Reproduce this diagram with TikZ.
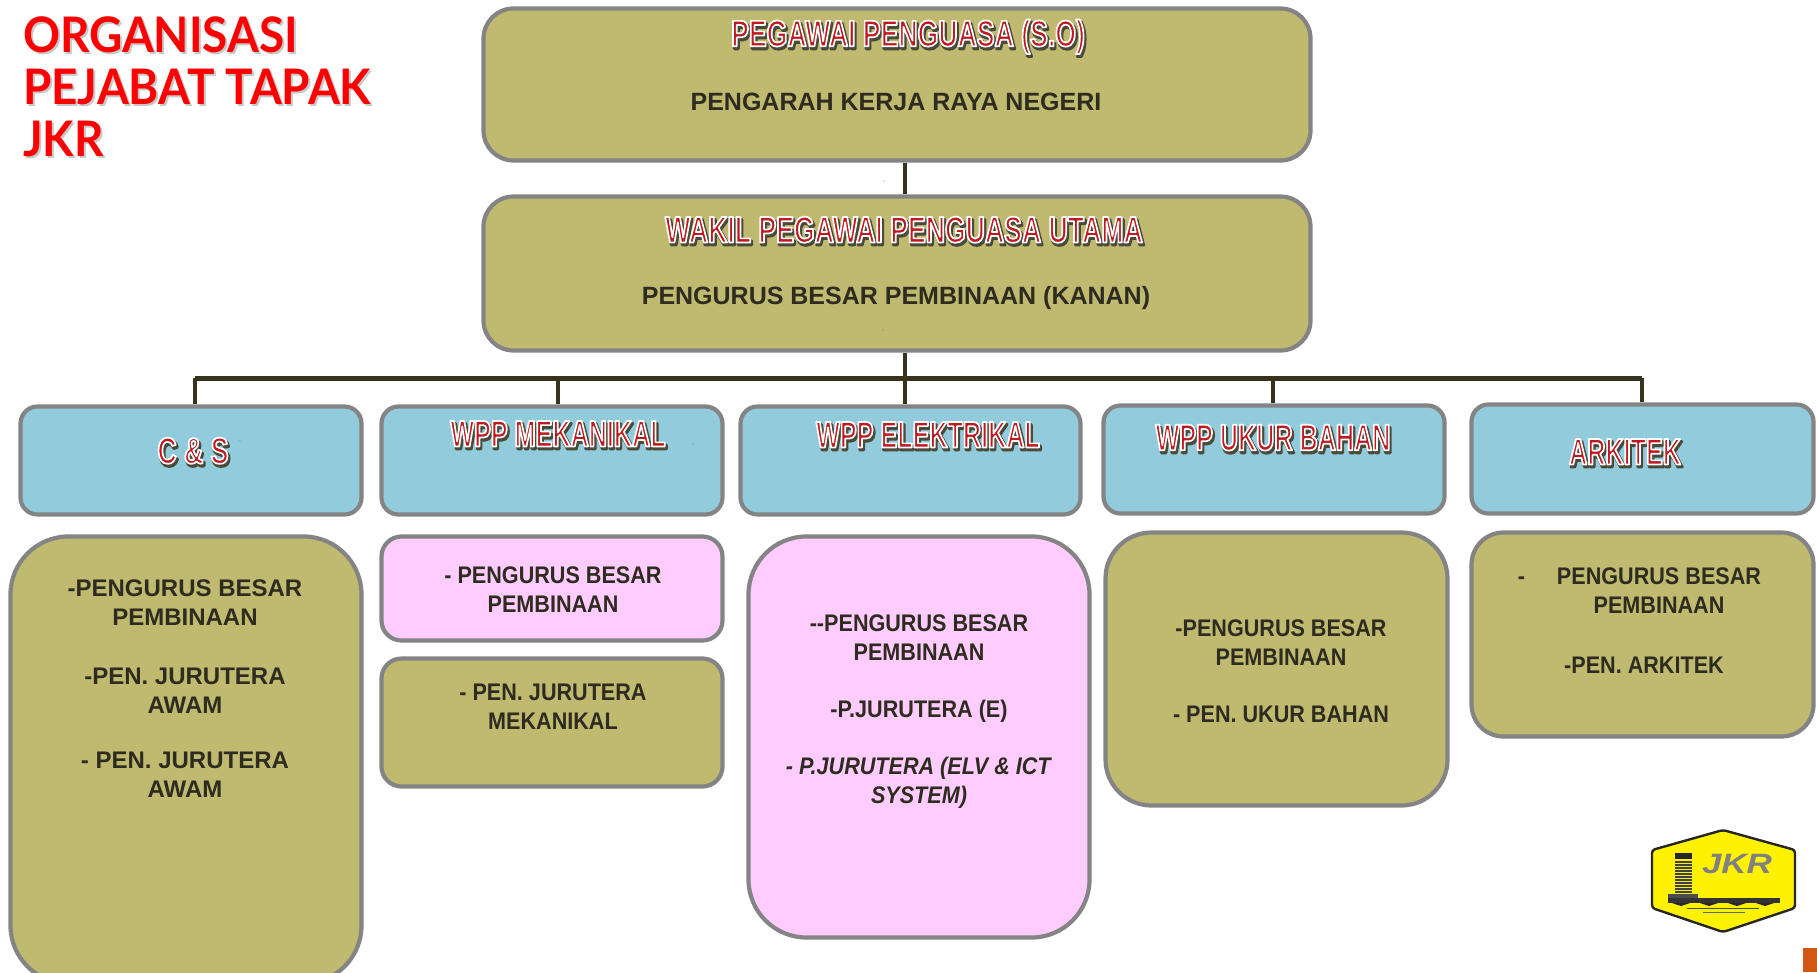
\documentclass[tikz,border=0pt]{standalone}
\usepackage{fontspec}
\setmainfont{Liberation Sans}
\newfontfamily\titlefont[FakeStretch=0.935]{Lato}
\newfontfamily\headfont[FakeStretch=0.72]{Liberation Sans}
\newfontfamily\subheadfont[FakeStretch=0.68]{Liberation Sans}
\newfontfamily\narrowfont[FakeStretch=0.9]{Liberation Sans}
\newfontfamily\logofont[FakeStretch=1.25]{Liberation Sans}

\definecolor{olivefill}{HTML}{BFBA70}
\definecolor{bluefill}{HTML}{92CCDC}
\definecolor{pinkfill}{HTML}{FFCCFF}
\definecolor{boxline}{HTML}{848484}
\definecolor{inkdark}{HTML}{2E2B1F}
\definecolor{busdark}{HTML}{38331F}
\definecolor{headred}{HTML}{C0181F}
\definecolor{headshade}{HTML}{4A4A3A}
\definecolor{titleshade}{HTML}{C8C8C8}
\definecolor{cornermark}{HTML}{D15814}

% outlined heading text: red core, white rim, dark drop
\newcommand{\headtext}[1]{\rlap{\kern1.5pt\raisebox{-2.5pt}{\color{headshade}\special{pdf:code 2 Tr 3 w 1 j 0.29 0.29 0.23 RG}#1\special{pdf:code 0 Tr}}}{\color{headred}\special{pdf:code 2 Tr 1.7 w 1 j 1 1 1 RG}#1\special{pdf:code 0 Tr}}}
% title line with a soft drop
\newcommand{\titletext}[1]{\rlap{\kern2pt\raisebox{-2pt}{\color{titleshade}#1}}#1}

\tikzset{
  orgbox/.style={draw=boxline, line width=4.2pt, inner sep=0pt},
  olivecard/.style={orgbox, fill=olivefill},
  bluecard/.style={orgbox, fill=bluefill, rounded corners=17pt},
  pinkcard/.style={orgbox, fill=pinkfill},
  heading/.style={inner sep=0pt, font=\headfont\bfseries\fontsize{37}{40}\selectfont},
  subheading/.style={inner sep=0pt, font=\subheadfont\bfseries\fontsize{37}{40}\selectfont},
  toptext/.style={inner sep=0pt, text=inkdark, font=\bfseries\fontsize{25}{29}\selectfont},
  bodytext/.style={inner sep=0pt, align=center, text=inkdark, font=\bfseries\fontsize{24}{29}\selectfont},
  narrowtext/.style={bodytext, font=\narrowfont\bfseries\fontsize{24}{29}\selectfont},
  speck/.style={inner sep=0pt, text=boxline, font=\fontsize{7}{8}\selectfont},
  busline/.style={draw=busdark, line width=3.2pt}
}

\begin{document}
\begin{tikzpicture}[x=1pt, y=-1pt]
  \useasboundingbox (0,0) rectangle (1817,972);
  \clip (0,0) rectangle (1817,972);

  % top boxes
  \node[olivecard, rounded corners=30pt, minimum width=827pt, minimum height=152pt] (so) at (897,84.5) {};
  \node[olivecard, rounded corners=30pt, minimum width=827pt, minimum height=154pt] (utama) at (897,273.5) {};

  % five disciplines
  \node[bluecard, minimum width=341pt, minimum height=108pt] (cs) at (191,460.5) {};
  \node[bluecard, minimum width=341pt, minimum height=108pt] (mek) at (552,460.5) {};
  \node[bluecard, minimum width=340pt, minimum height=108pt] (elek) at (910.5,460.5) {};
  \node[bluecard, minimum width=341pt, minimum height=108pt] (ukur) at (1274,459.5) {};
  \node[bluecard, minimum width=342pt, minimum height=109pt] (ark) at (1642.5,459) {};

  % boxes under them
  \node[olivecard, rounded corners=58pt, minimum width=351pt, minimum height=447pt] (csbody) at (186,760) {};
  \node[pinkcard, rounded corners=20pt, minimum width=341pt, minimum height=104pt] (mekbosa) at (552,588.5) {};
  \node[olivecard, rounded corners=20pt, minimum width=341pt, minimum height=128pt] (mekjur) at (552,722.5) {};
  \node[pinkcard, rounded corners=58pt, minimum width=341pt, minimum height=401pt] (elekbody) at (919,737) {};
  \node[olivecard, rounded corners=46pt, minimum width=342pt, minimum height=273pt] (ukurbody) at (1276.5,669) {};
  \node[olivecard, rounded corners=32pt, minimum width=342pt, minimum height=204pt] (arkbody) at (1642.5,634.5) {};

  % connectors
  \coordinate (busleft) at (195,378);
  \coordinate (busright) at (1642,378);
  \coordinate (busmid) at (905,378);
  \coordinate (dropb) at (558,378);
  \coordinate (dropd) at (1273,378);
  \draw[busline, line width=4pt] (so.south -| busmid) -- (utama.north -| busmid);
  \draw[busline] (utama.south -| busmid) -- (busmid);
  \draw[busline, line width=5pt] (busleft) -- (busright);
  \draw[busline] (busleft) -- (busleft |- cs.north);
  \draw[busline] (dropb) -- (dropb |- mek.north);
  \draw[busline] (busmid) -- (busmid |- elek.north);
  \draw[busline] (dropd) -- (dropd |- ukur.north);
  \draw[busline] (busright) -- (busright |- ark.north);

  % title
  \node[anchor=north west, inner sep=0pt, align=left, text=red, font=\titlefont\bfseries\fontsize{49}{52}\selectfont] (title) at (23,16) {\titletext{ORGANISASI}\\\titletext{PEJABAT TAPAK}\\\titletext{JKR}};

  % headings
  \node[heading] (sohead) at (908,38) {\headtext{PEGAWAI PENGUASA (S.O)}};
  \node[heading] (utamahead) at (904,231) {\headtext{WAKIL PEGAWAI PENGUASA UTAMA}};
  \node[heading] (cshead) at (193,452) {\headtext{C \& S}};
  \node[subheading] (mekhead) at (558,435) {\headtext{WPP MEKANIKAL}};
  \node[subheading] (elekhead) at (928,436) {\headtext{WPP ELEKTRIKAL}};
  \node[subheading] (ukurhead) at (1273,439) {\headtext{WPP UKUR BAHAN}};
  \node[subheading] (arkhead) at (1625,453) {\headtext{ARKITEK}};

  % body text
  \node[toptext] (sotext) at (896,102) {PENGARAH KERJA RAYA NEGERI};
  \node[toptext] (utamatext) at (896,298) {PENGURUS BESAR PEMBINAAN (KANAN)};
  \node[bodytext, anchor=north] (cstext) at (185,580) {-PENGURUS BESAR\\PEMBINAAN\\[30pt]-PEN. JURUTERA\\AWAM\\[26pt]- PEN. JURUTERA\\AWAM};
  \node[narrowtext] (mekbosatext) at (553,590) {- PENGURUS BESAR\\PEMBINAAN};
  \node[narrowtext] (mekjurtext) at (553,707) {- PEN. JURUTERA\\MEKANIKAL};
  \node[narrowtext, anchor=north] (elektext) at (919,615) {--PENGURUS BESAR\\PEMBINAAN\\[28pt]-P.JURUTERA (E)\\[28pt]\textit{- P.JURUTERA (ELV \& ICT}\\\textit{SYSTEM)}};
  \node[narrowtext, anchor=north] (ukurtext) at (1281,620) {-PENGURUS BESAR\\PEMBINAAN\\[28pt]- PEN. UKUR BAHAN};
  \node[narrowtext, anchor=north] (arktext) at (1659,568) {\llap{-\hspace{32pt}}PENGURUS BESAR\\PEMBINAAN\\[31pt]-PEN. ARKITEK\hspace*{30pt}};

  % small marks
  \node[speck] (speca) at (884,182) {-};
  \node[speck] (specb) at (883,331) {-};
  \node[speck] (specc) at (240,441) {-};
  \node[speck] (specd) at (693,445) {-};

  % logo
  \draw[fill=yellow, draw=black!85, line width=2.4pt, rounded corners=3pt] (1723,830) -- (1795,850) -- (1795,908) -- (1723,932) -- (1652,908) -- (1652,850) -- cycle;
  \fill[black!85] (1675,853) rectangle (1692,859);
  \foreach \ypos in {861,864,...,891}
    \fill[black!75] (1675,\ypos) rectangle (1692,\ypos+1.6);
  \fill[black!70] (1668,894) rectangle (1698,898);
  \fill[black!80] (1668,898) rectangle (1780,903);
  \foreach \xpos in {1681,1709,1737,1765}
    \fill[black!85] (\xpos-9,903) -- (\xpos+9,903) -- (\xpos,906) -- cycle;
  \draw[black!70, line width=.8pt] (1687,908) -- (1759,908);
  \draw[black!60, line width=.8pt] (1703,912) -- (1745,912);
  \node[inner sep=0pt, text=black!50, font=\logofont\bfseries\itshape\fontsize{28}{29}\selectfont] (logotext) at (1737,864) {JKR};

  \fill[cornermark] (1803,948) rectangle (1817,972);
\end{tikzpicture}
\end{document}
